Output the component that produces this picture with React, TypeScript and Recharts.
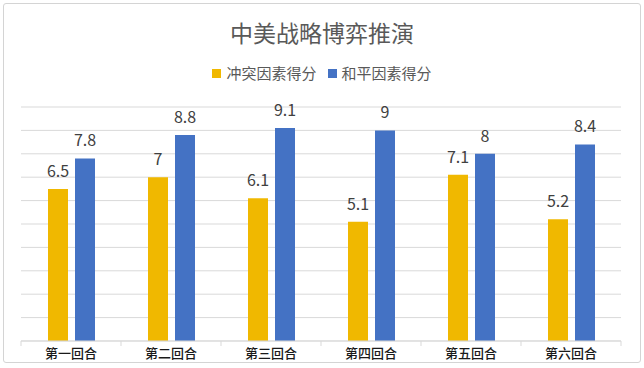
import React from 'react';
import { BarChart, Bar, XAxis, YAxis, CartesianGrid, LabelList, Legend } from 'recharts';

const categories = ['第一回合', '第二回合', '第三回合', '第四回合', '第五回合', '第六回合'];
const conflictScores = [6.5, 7, 6.1, 5.1, 7.1, 5.2];
const peaceScores = [7.8, 8.8, 9.1, 9, 8, 8.4];
const yTicks = [0, 1, 2, 3, 4, 5, 6, 7, 8, 9, 10];
const seriesNames = ['冲突因素得分', '和平因素得分'];
const title = '中美战略博弈推演';

const COLORS = ['#F0B800', '#4472C4'];
const FONT = '"Noto Sans CJK SC", "Microsoft YaHei", sans-serif';

const data = categories.map((c, i) => ({ name: c, conflict: conflictScores[i], peace: peaceScores[i] }));

const renderLegend = (props: any) => {
  const payload = props.payload || [];
  return (
    <div style={{ display: 'flex', justifyContent: 'center', alignItems: 'center', fontFamily: FONT, fontSize: 15, color: '#595959', lineHeight: '20px' }}>
      {payload.map((p: any, i: number) => (
        <div key={p.value} style={{ display: 'flex', alignItems: 'center', marginLeft: i ? 11 : 0 }}>
          <span style={{ display: 'inline-block', width: 9, height: 9, background: p.color, marginRight: 5 }} />
          {p.value}
        </div>
      ))}
    </div>
  );
};

const XTick = (props: any) => {
  const { x, y, payload, index } = props;
  const half = payload && typeof payload.offset === 'number' && payload.offset > 0 ? payload.offset : 50;
  const isLast = index === categories.length - 1;
  return (
    <g>
      <line x1={x - half} x2={x - half} y1={y - 5} y2={y} stroke="#d9d9d9" />
      {isLast && <line x1={x + half} x2={x + half} y1={y - 5} y2={y} stroke="#d9d9d9" />}
      <text x={x} y={y} dy={11.5} textAnchor="middle" fontFamily={FONT} fontSize={13} fontWeight={500} fill="#1a1a1a">
        {payload.value}
      </text>
    </g>
  );
};

export default function App() {
  return (
    <div style={{ position: 'absolute', left: 0, top: 0, width: 644, height: 368, background: '#fff' }}>
      <div style={{ position: 'absolute', left: 3, top: 3, width: 638, height: 360, border: '1px solid #d4d4d4', borderRadius: 3, boxSizing: 'border-box' }} />
      <div style={{ position: 'absolute', left: 0, top: 16, width: 644, textAlign: 'center', fontFamily: FONT, fontSize: 23, lineHeight: '32px', color: '#595959' }}>
        {title}
      </div>
      <BarChart width={644} height={368} data={data} margin={{ top: 107, right: 23, left: 21, bottom: 0 }} barGap={7} barSize={20}>
        <CartesianGrid vertical={false} stroke="#d9d9d9" />
        <XAxis dataKey="name" height={27} tickSize={5} tickMargin={0} tickLine={false} stroke="#d9d9d9" tick={<XTick />} interval={0} />
        <YAxis hide width={0} domain={[0, 10]} ticks={yTicks} />
        <Legend layout="horizontal" verticalAlign="middle" align="center" content={renderLegend} wrapperStyle={{ top: 63, left: 0, width: 644 }} />
        <Bar dataKey="conflict" name={seriesNames[0]} fill={COLORS[0]} isAnimationActive={false}>
          <LabelList dataKey="conflict" position="top" offset={12} fill="#404040" fontSize={16} fontFamily={FONT} />
        </Bar>
        <Bar dataKey="peace" name={seriesNames[1]} fill={COLORS[1]} isAnimationActive={false}>
          <LabelList dataKey="peace" position="top" offset={12} fill="#404040" fontSize={16} fontFamily={FONT} />
        </Bar>
      </BarChart>
    </div>
  );
}
